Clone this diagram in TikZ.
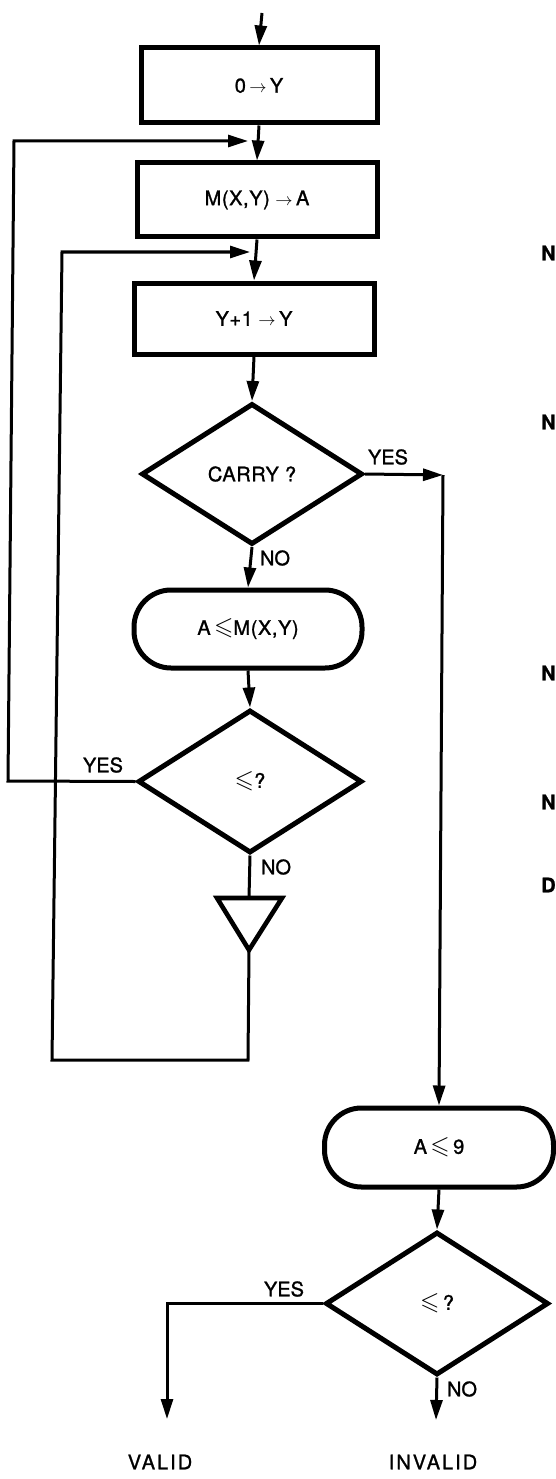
\documentclass[tikz,border=0pt]{standalone}
\usepackage{amssymb}
\usepackage{fontspec}
\setmainfont{TeX Gyre Heros}[FakeBold=1.2]
\usetikzlibrary{arrows.meta,shapes.geometric}
\newcommand\flfont{\fontsize{20}{22}\selectfont\addfontfeature{LetterSpace=3}}
\newcommand\lbfont{\fontsize{20}{22}\selectfont}
\newcommand\finfont{\fontsize{20}{22}\selectfont\addfontfeature{LetterSpace=10}}
\newcommand\edgefont{\fontsize{20}{22}\selectfont\bfseries}
\newcommand\rarr{{\fontsize{16}{16}\selectfont$\rightarrow$}}
\newcommand\leqs{{\fontsize{25}{25}\selectfont$\leqslant$}}
\begin{document}
\begin{tikzpicture}[x=1pt,y=-1pt,
  procbox/.style={draw,line width=5pt,inner sep=0pt,font=\flfont},
  decbox/.style={diamond,draw,line width=5pt,inner sep=0pt,font=\flfont},
  termbox/.style={draw,line width=5pt,rounded corners=37pt,inner sep=0pt,font=\flfont},
  conn/.style={line width=3pt},
  arr/.style={conn,-{Triangle[length=20pt,width=12pt]}},
  lbl/.style={inner sep=0pt,font=\lbfont},
  endlbl/.style={inner sep=0pt,font=\finfont},
  edgetext/.style={inner sep=0pt,anchor=west,font=\edgefont}]
\useasboundingbox (0,0) rectangle (556,1479);
\fill[white] (0,0) rectangle (556,1479);

% nodes
\node[procbox,minimum width=236pt,minimum height=75pt] (b1) at (259,85.5) {0\,\rarr\,Y};
\node[procbox,minimum width=240pt,minimum height=74pt] (b2) at (257,200) {M(X,Y)\;\rarr\,A};
\node[procbox,minimum width=240pt,minimum height=71pt] (b3) at (254,318.5) {Y+1\;\rarr\,Y};
\node[decbox,minimum width=221pt,minimum height=141pt] (d1) at (252,474) {CARRY ?};
\node[termbox,minimum width=228pt,minimum height=78pt] (t1) at (248,629) {A\,\leqs M(X,Y)};
\node[decbox,minimum width=224pt,minimum height=143pt] (d2) at (250,781.5) {\leqs?};
\node[termbox,minimum width=229pt,minimum height=79pt] (t2) at (439,1147.5) {A\,\leqs\,9};
\node[decbox,minimum width=223pt,minimum height=143pt] (d3) at (437,1303.5) {\leqs\,?};

% triangle (connector)
\coordinate (triT) at (249,898);
\coordinate (triB) at (249,950);
\draw[line width=4.6pt,line join=miter] (217,898) -- (282,898) -- (triB) -- cycle;

% coordinates
\coordinate (start) at (262,13);
\coordinate (c1) at (443,475);
\coordinate (l1a) at (8,781);
\coordinate (l1b) at (14,141);
\coordinate (l1e) at (248,141);
\coordinate (l2a) at (248,1060);
\coordinate (l2b) at (52,1060);
\coordinate (l2c) at (62,252);
\coordinate (l2e) at (250,252);
\coordinate (v1) at (167,1303.5);
\coordinate (v2) at (167,1419);
\coordinate (iv) at (436,1420);

% connectors
\draw[arr] (start) -- (b1.north);
\draw[arr] (b1.south) -- (b2.north);
\draw[arr] (b2.south) -- (b3.north);
\draw[arr] (b3.south) -- (d1.north);
\draw[arr] (d1.south) -- (t1.north);
\draw[arr] (t1.south) -- (d2.north);
\draw[conn] (d2.south) -- (triT);
\draw[arr] (d1.east) -- (c1);
\draw[arr] (c1) -- (t2.north);
\draw[arr] (t2.south) -- (d3.north);
\draw[arr] (d2.west) -- (l1a) -- (l1b) -- (l1e);
\draw[arr] (triB) -- (l2a) -- (l2b) -- (l2c) -- (l2e);
\draw[arr] (d3.west) -- (v1) -- (v2);
\draw[arr] (d3.south) -- (iv);

% labels
\node[lbl] (y1) at (388,457) {YES};
\node[lbl] (n1) at (275,558) {NO};
\node[lbl] (y2) at (103,765) {YES};
\node[lbl] (n2) at (276,867) {NO};
\node[lbl] (y3) at (284,1289) {YES};
\node[lbl] (n3) at (462,1389) {NO};
\node[endlbl] (valid) at (160,1462) {VALID};
\node[endlbl] (invalid) at (433,1462) {INVALID};

% text at right edge
\node[edgetext] (e1) at (541,253) {N};
\node[edgetext] (e2) at (541,422) {N};
\node[edgetext] (e3) at (541,673) {N};
\node[edgetext] (e4) at (541,802) {N};
\node[edgetext] (e5) at (541,885) {D};
\end{tikzpicture}
\end{document}
